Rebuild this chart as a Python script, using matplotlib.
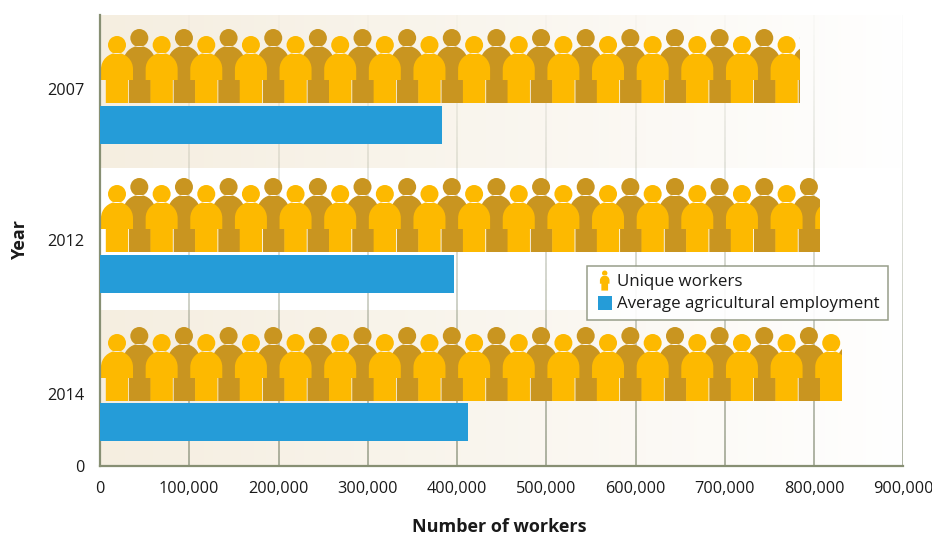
import numpy as np
import matplotlib
matplotlib.use("Agg")
import matplotlib.pyplot as plt
from matplotlib.path import Path
from matplotlib.patches import PathPatch, Rectangle
from matplotlib.collections import LineCollection
from matplotlib.transforms import Affine2D
from matplotlib.legend_handler import HandlerBase

years = ["2007", "2012", "2014"]
unique_workers = [784000, 806000, 831000]
avg_employment = [383000, 397000, 412000]
x_ticks = [0, 100000, 200000, 300000, 400000, 500000, 600000, 700000, 800000, 900000]

W, H = 932, 535
L, R, T, B = 100, 903.5, 15, 466
plt.rcParams['font.family'] = ['Open Sans', 'DejaVu Sans']

OLIVE = '#878f73'
YEL = '#fdb900'
BRN = '#c99520'
BLUE = '#259cd8'
TXT = '#1a1a1a'

fig = plt.figure(figsize=(W / 100, H / 100), dpi=100)
ax = fig.add_axes([L / W, 1 - B / H, (R - L) / W, (B - T) / H])
ax.set_facecolor('white')
PLOT_H = B - T
X_PER_PX = 900000 / (R - L)


def body_path(head_h, top_h, leg_l, leg_r):
    k = 8.8
    v = [(-16, 23), (-16, top_h - 16), (-16, top_h - 16 + k), (-k, top_h), (0, top_h),
         (k, top_h), (16, top_h - 16 + k), (16, top_h - 16), (16, 23),
         (leg_r, 23), (leg_r, 0), (leg_l, 0), (leg_l, 23), (-16, 23)]
    c = [Path.MOVETO, Path.LINETO, Path.CURVE4, Path.CURVE4, Path.CURVE4,
         Path.CURVE4, Path.CURVE4, Path.CURVE4, Path.LINETO,
         Path.LINETO, Path.LINETO, Path.LINETO, Path.LINETO, Path.CLOSEPOLY]
    body = Path(v, c)
    head = Path.circle((0, head_h), 9)
    return Path.make_compound_path(body, head)


FRONT = body_path(58, 50, -11.2, 11.2)
BACK = body_path(65, 57, -10.3, 11.6)

# vertical layout, in pixels above the axis bottom
slot_base = [363, 214, 65]
slot_top = 88
bar_center = [341, 192, 44]
bar_h = 38
tick_pos = [377, 226, 72]

# fading background bands
for lo, hi in [(0, 156), (298, 451)]:
    g = np.ones((1, 256, 4))
    g[..., :3] = matplotlib.colors.to_rgb('#f5eee0')
    g[..., 3] = np.linspace(1, 0, 256) ** 0.9
    ax.imshow(g, extent=(0, 900000, lo, hi), aspect='auto', origin='lower', zorder=0.5)

# gridlines fading towards the top
ys = np.linspace(0, PLOT_H, 90)
rgb = matplotlib.colors.to_rgb('#8f9680')
for xv in x_ticks[1:]:
    segs = [[(xv, a), (xv, b)] for a, b in zip(ys[:-1], ys[1:])]
    cols = [(*rgb, 0.9 * (1 - a / PLOT_H) ** 1.2 + 0.03) for a in ys[:-1]]
    ax.add_collection(LineCollection(segs, colors=cols, linewidths=1.1, zorder=1))

# pictogram bars: one figure for every 25,000 workers
for val, base in zip(unique_workers, slot_base):
    clip = Rectangle((0, base), val, slot_top, transform=ax.transData)
    n = int(val // 25000) + 2
    for layer in (1, 0):
        for k in range(layer, n, 2):
            cx = (17 / (R - L) * 900000) + k * 25000
            tr = Affine2D().scale(X_PER_PX, 1).translate(cx, base)
            p = PathPatch(BACK if layer else FRONT, transform=tr + ax.transData,
                          fc=BRN if layer else YEL, ec='none', lw=0,
                          zorder=2 + (0 if layer else 0.5))
            ax.add_patch(p)
            p.set_clip_path(clip)

ax.barh(bar_center, avg_employment, height=bar_h, color=BLUE, zorder=3)

ax.set_xlim(0, 900000)
ax.set_ylim(0, PLOT_H)
ax.set_xticks(x_ticks)
ax.set_xticklabels([f"{v:,}" for v in x_ticks], fontsize=11.7, color=TXT)
ax.set_yticks([0] + tick_pos)
ax.set_yticklabels(["0"] + years, fontsize=11.7, color=TXT)
ax.tick_params(axis='x', length=0, pad=10.5)
ax.tick_params(axis='y', length=0, pad=11)
ax.grid(False)

for s in ('top', 'right'):
    ax.spines[s].set_visible(False)
for s in ('left', 'bottom'):
    ax.spines[s].set_color(OLIVE)
    ax.spines[s].set_linewidth(1.6)
    ax.spines[s].set_zorder(2.9)

fig.text(499 / W, 1 - 527 / H, "Number of workers", fontsize=13, fontweight='bold',
         color=TXT, ha='center', va='center')
fig.text(20 / W, 1 - 240 / H, "Year", fontsize=13, fontweight='bold', rotation=90,
         color=TXT, ha='center', va='center')


class PersonHandle:
    pass


class SquareHandle:
    pass


class PersonHandler(HandlerBase):
    def create_artists(self, legend, orig, x, y, w, h, fontsize, trans):
        s = 0.216
        tr = Affine2D().scale(s, s).translate(x + w / 2, y - 3)
        return [PathPatch(FRONT, transform=tr + trans, fc=YEL, ec='none')]


class SquareHandler(HandlerBase):
    def create_artists(self, legend, orig, x, y, w, h, fontsize, trans):
        side = 14 * 72 / 100
        return [Rectangle((x + w / 2 - side / 2, y - 1.5), side, side,
                          transform=trans, fc=BLUE, ec='none')]


leg = ax.legend([PersonHandle(), SquareHandle()],
                ["Unique workers", "Average agricultural employment"],
                handler_map={PersonHandle: PersonHandler(), SquareHandle: SquareHandler()},
                loc='upper left',
                bbox_to_anchor=((587 - L) / (R - L), (B - 266) / (B - T)),
                borderaxespad=0, borderpad=0.5, labelspacing=0.32,
                handlelength=1.1, handletextpad=0.2,
                fontsize=12.15, frameon=True, fancybox=False, framealpha=0.92,
                edgecolor='#8f9680')
leg.get_frame().set_linewidth(1.1)
leg.set_zorder(6)
for t in leg.get_texts():
    t.set_color(TXT)

fig.savefig("out.png", dpi=100, facecolor='white')
